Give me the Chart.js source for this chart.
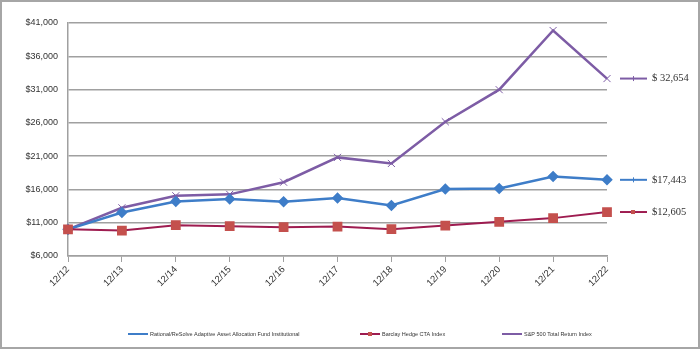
<!DOCTYPE html>
<html>
<head>
<meta charset="utf-8">
<script src="https://cdn.jsdelivr.net/npm/chart.js@4"></script>
<style>
  body { margin: 0; background: #fff; }
  .wrap { position: relative; width: 700px; height: 350px; }
  .frame { position: absolute; left: 0; top: 0; width: 700px; height: 349px; box-sizing: border-box; border: 2px solid #a6a6a6; pointer-events: none; }
</style>
</head>
<body>
<div class="wrap">
  <canvas class="my-chart" width="700" height="350"></canvas>
  <div class="frame"></div>
</div>
<script>
const years = ["12/12", "12/13", "12/14", "12/15", "12/16", "12/17", "12/18", "12/19", "12/20", "12/21", "12/22"];
const rational = [10000, 12540, 14190, 14550, 14150, 14700, 13600, 16050, 16150, 17950, 17443];
const barclay = [10000, 9820, 10630, 10480, 10330, 10420, 10030, 10570, 11130, 11690, 12605];
const sp500 = [10000, 13239, 15051, 15259, 17084, 20813, 19901, 26167, 30982, 39875, 32654];
const seriesNames = [
  "Rational/ReSolve Adaptive Asset Allocation Fund Institutional",
  "Barclay Hedge CTA Index",
  "S&P 500 Total Return Index"
];
const endLabels = ["$17,443", "$12,605", "$ 32,654"];

const blue = "rgb(62,125,200)";
const red = "rgb(158,28,80)";
const redMark = "rgb(196,80,77)";
const purple = "rgb(125,92,165)";

const myChart = document.querySelector(".my-chart");

new Chart(myChart, {
  type: "line",
  data: {
    labels: years,
    datasets: [
      {
        label: seriesNames[0],
        data: rational,
        order: 1,
        borderColor: blue,
        backgroundColor: blue,
        borderWidth: 2.5,
        pointStyle: "rectRot",
        pointRadius: 4,
        tension: 0
      },
      {
        label: seriesNames[1],
        data: barclay,
        order: 0,
        borderColor: red,
        backgroundColor: redMark,
        pointBorderColor: redMark,
        borderWidth: 2,
        pointStyle: "rect",
        pointRadius: 5.5,
        tension: 0
      },
      {
        label: seriesNames[2],
        data: sp500,
        order: 2,
        borderColor: purple,
        backgroundColor: purple,
        borderWidth: 2.5,
        pointStyle: "crossRot",
        pointRadius: 5,
        pointBorderWidth: 1,
        tension: 0
      }
    ]
  },
  options: {
    responsive: false,
    animation: false,
    layout: { padding: { top: 23, right: 93, bottom: 59, left: 10 } },
    plugins: {
      legend: { display: false },
      tooltip: { enabled: false }
    },
    scales: {
      x: {
        offset: false,
        grid: { drawOnChartArea: false, color: "#a0a0a0", tickLength: 6 },
        border: { color: "#a0a0a0", width: 1.5 },
        ticks: {
          minRotation: 45,
          maxRotation: 45,
          color: "#333",
          font: { family: "Liberation Sans", size: 9.5 },
          padding: 2
        },
        afterFit: (s) => { s.height = 35; }
      },
      y: {
        min: 6000,
        max: 41000,
        grid: { color: "#a0a0a0", lineWidth: 1.5, drawTicks: false },
        border: { color: "#a0a0a0", width: 1.5 },
        ticks: {
          stepSize: 5000,
          color: "#333",
          padding: 10,
          font: { family: "Liberation Sans", size: 9 },
          callback: (v) => "$" + v.toLocaleString("en-US")
        },
        afterFit: (s) => { s.width = 58; }
      }
    }
  },
  plugins: [
    {
      id: "endLabels",
      afterDraw: function (chart) {
        const ctx = chart.ctx;
        const area = chart.chartArea;
        ctx.save();
        chart.data.datasets.forEach(function (ds, i) {
          const meta = chart.getDatasetMeta(i);
          const last = meta.data[meta.data.length - 1];
          const y = last.y;
          const x0 = area.right + 13;
          ctx.strokeStyle = ds.borderColor;
          ctx.lineWidth = 2;
          ctx.beginPath();
          ctx.moveTo(x0, y);
          ctx.lineTo(x0 + 27, y);
          ctx.stroke();
          ctx.fillStyle = ds.backgroundColor;
          if (i === 1) ctx.fillRect(x0 + 11, y - 2, 4, 4);
          else ctx.fillRect(x0 + 13, y - 2.5, 1, 5);
          ctx.fillStyle = "#333";
          ctx.font = "10.5px 'Liberation Serif'";
          ctx.textBaseline = "middle";
          ctx.fillText(endLabels[i], x0 + 32, y);
        });

        // legend row at the bottom
        const pos = [128, 360, 502];
        const ly = 334;
        ctx.font = "5.5px 'Liberation Sans'";
        chart.data.datasets.forEach(function (ds, i) {
          ctx.strokeStyle = ds.borderColor;
          ctx.lineWidth = 2;
          ctx.beginPath();
          ctx.moveTo(pos[i], ly);
          ctx.lineTo(pos[i] + 20, ly);
          ctx.stroke();
          ctx.fillStyle = ds.backgroundColor;
          if (i === 1) ctx.fillRect(pos[i] + 8, ly - 2, 4, 4);
          ctx.fillStyle = "#333";
          ctx.fillText(ds.label, pos[i] + 22, ly);
        });
        ctx.restore();
      }
    }
  ]
});
</script>
</body>
</html>
